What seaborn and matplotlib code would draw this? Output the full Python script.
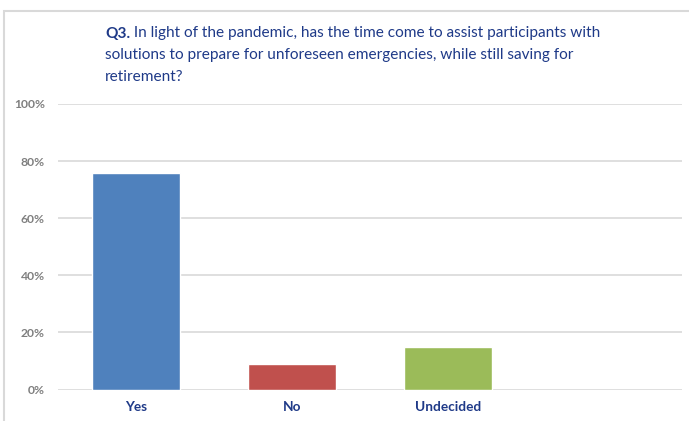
import matplotlib
matplotlib.use("Agg")
import matplotlib.pyplot as plt
import seaborn as sns
import pandas as pd
from matplotlib.patches import Rectangle
from matplotlib.ticker import PercentFormatter

categories = ["Yes", "No", "Undecided"]
values = [76, 9, 15]
colors = ["#4F81BD", "#C0504D", "#9BBB59"]
yticks = [0, 20, 40, 60, 80, 100]
title_bold = "Q3."
title_lines = [
    " In light of the pandemic, has the time come to assist participants with",
    "solutions to prepare for unforeseen emergencies, while still saving for",
    "retirement?",
]

sns.set_theme(style="white")
plt.rcParams['font.family'] = ['Lato', 'DejaVu Sans']

W, H = 689, 421
fig = plt.figure(figsize=(W / 100, H / 100), dpi=100)
ax = fig.add_axes([58 / W, (H - 389.5) / H, (682 - 58) / W, 285.5 / H])

df = pd.DataFrame({"cat": categories, "val": values})
sns.barplot(data=df, x="cat", y="val", hue="cat", palette=colors,
            order=categories, hue_order=categories, width=0.566,
            legend=False, ax=ax, saturation=1)

ax.set_xlim(-0.5, 3.5)
ax.set_ylim(0, 100)
ax.set_yticks(yticks)
ax.yaxis.set_major_formatter(PercentFormatter(decimals=0))
ax.grid(axis="y", color="#D9D9D9", linewidth=1.2)
ax.set_axisbelow(True)
for s in ax.spines.values():
    s.set_visible(False)
ax.set_xlabel("")
ax.set_ylabel("")
ax.tick_params(axis="y", length=0, pad=9.5, labelsize=8.7, labelcolor="#7F7F7F")
ax.tick_params(axis="x", length=0, pad=8, labelsize=9.8, labelcolor="#1F3A88")
for lab in ax.get_yticklabels():
    lab.set_fontweight("bold")
for lab in ax.get_xticklabels():
    lab.set_fontweight("bold")

# border
fig.patches.append(Rectangle((4 / W, -0.1), 1.2, (H - 10.5) / H + 0.1,
                             transform=fig.transFigure, fill=False,
                             edgecolor="#D9D9D9", linewidth=1.5))

tc = "#1F3A88"
fs = 11.1
x0 = 105 / W
baselines = [37.5, 59.5, 81]
t0 = fig.text(x0, (H - baselines[0]) / H, title_bold, fontsize=fs,
              fontweight="bold", color=tc, va="baseline", ha="left")
fig.canvas.draw()
bb = t0.get_window_extent()
x1 = bb.x1 / W
fig.text(x1, (H - baselines[0]) / H, title_lines[0], fontsize=fs,
         color=tc, va="baseline", ha="left")
for line, b in zip(title_lines[1:], baselines[1:]):
    fig.text(x0, (H - b) / H, line, fontsize=fs, color=tc,
             va="baseline", ha="left")

fig.savefig("out.png", dpi=100)
